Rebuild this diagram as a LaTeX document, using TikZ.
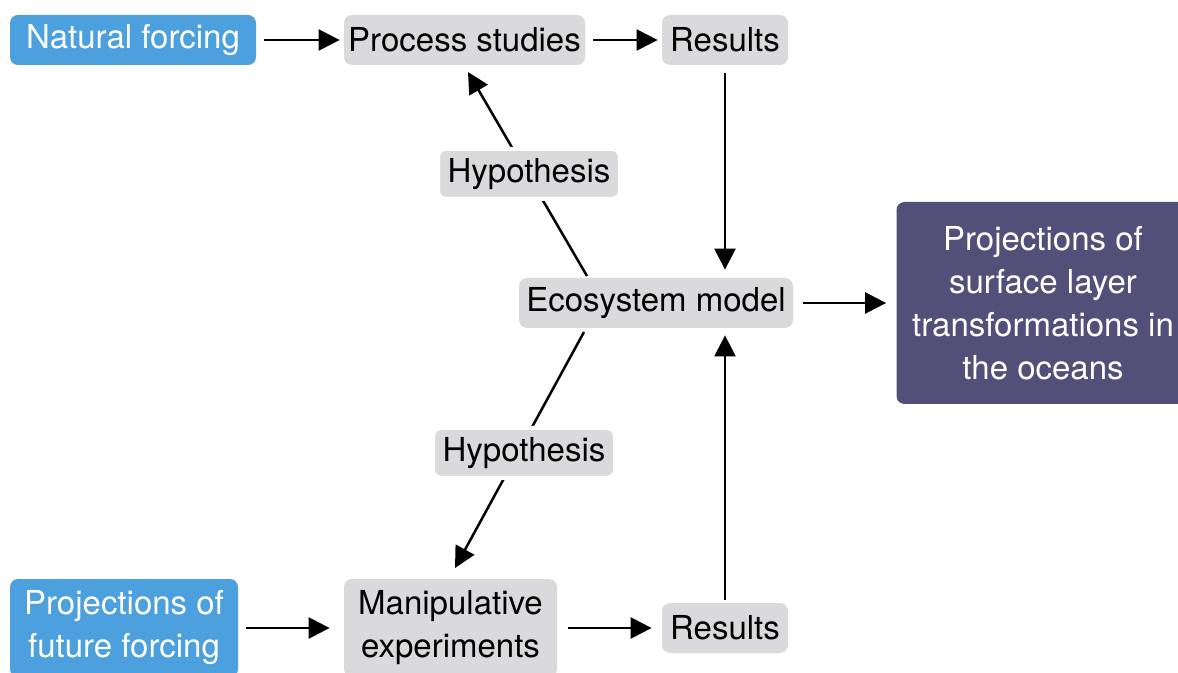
\documentclass[tikz,border=0pt]{standalone}
\usepackage{fontspec}
\setmainfont{TeX Gyre Heros}
\usetikzlibrary{arrows.meta, positioning}
\definecolor{forceblue}{HTML}{4BA0DD}
\definecolor{boxgray}{HTML}{DADADC}
\definecolor{projpurple}{HTML}{524F78}

\begin{document}
\begin{tikzpicture}[x=0.5pt,y=-0.5pt,
    elem/.style={fill=boxgray,rounded corners=4pt,align=center,inner sep=2pt,minimum height=25pt,font=\fontsize{16.5}{21.5}\selectfont},
    force/.style={elem,fill=forceblue,text=white},
    proj/.style={elem,fill=projpurple,text=white},
    hypo/.style={elem,draw=white,line width=2pt,minimum width=91pt},
    link/.style={line width=1.25pt,-{Triangle[length=10.5pt,width=10.5pt]},shorten <=4pt,shorten >=2pt}]
    \useasboundingbox (0,0) rectangle (1178,673);
    \node (nat) [force,minimum width=123pt] at (133,40) {Natural forcing};
    \node (pro) [elem,minimum width=120.5pt] at (464.5,40) {Process studies};
    \node (re1) [elem,minimum width=63pt] at (725,40) {Results};
    \node (eco) [elem,minimum width=137pt] at (656,303) {Ecosystem model};
    \node (out) [proj,minimum width=146.5pt,minimum height=101pt] at (1043,303) {Projections of\\surface layer\\transformations in\\the oceans};
    \node (fut) [force,minimum width=114pt,minimum height=49pt] at (124,628) {Projections of\\future forcing};
    \node (man) [elem,minimum width=106.5pt,minimum height=49pt] at (450.5,628) {Manipulative\\experiments};
    \node (re2) [elem,minimum width=63pt] at (725,628) {Results};
    % hypothesis lines
    \coordinate (h1a) at (587,276);
    \coordinate (h1b) at (468,72);
    \coordinate (h2a) at (584,332);
    \coordinate (h2b) at (455,568);
    \draw[link,shorten <=0pt,shorten >=0pt] (h1a) -- (h1b);
    \draw[link,shorten <=0pt,shorten >=0pt] (h2a) -- (h2b);
    \node (hy1) [hypo] at (529,174) {Hypothesis};
    \node (hy2) [hypo] at (524,453) {Hypothesis};
    % flows
    \draw[link] (nat) -- (pro);
    \draw[link] (pro) -- (re1);
    \draw[link,shorten >=4pt] (re1.south) -- (re1.south |- eco.north);
    \draw[link,shorten <=5pt,shorten >=5pt] (eco) -- (out);
    \draw[link,shorten >=3.5pt,shorten <=1.5pt] (re2.north) -- (re2.north |- eco.south);
    \draw[link,shorten >=7pt] (fut) -- (man);
    \draw[link,shorten <=5.5pt,shorten >=5pt] (man) -- (re2);
\end{tikzpicture}
\end{document}
